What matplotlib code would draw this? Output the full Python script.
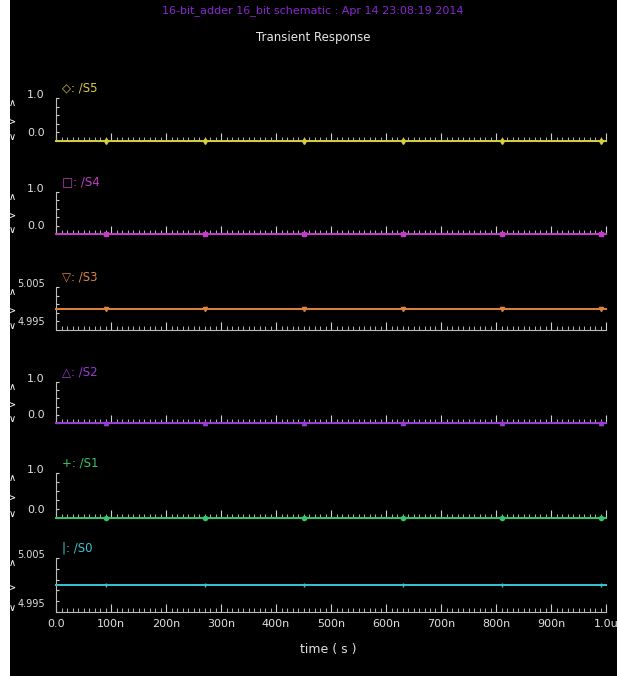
import matplotlib
matplotlib.use("Agg")
import matplotlib.pyplot as plt
from matplotlib.patches import Rectangle

plt.rcParams['font.family'] = ['DejaVu Sans']

# ---- data ----
time_us = [0.0, 1.0]
signal_names = ["/S5", "/S4", "/S3", "/S2", "/S1", "/S0"]
S5 = [0.0, 0.0]
S4 = [0.0, 0.0]
S3 = [5.0, 5.0]
S2 = [0.0, 0.0]
S1 = [0.0, 0.0]
S0 = [5.0, 5.0]
marker_times = [0.09, 0.27, 0.45, 0.63, 0.81, 0.99]
ytick_lo = ["0.0", "0.0", "4.995", "0.0", "0.0", "4.995"]
ytick_hi = ["1.0", "1.0", "5.005", "1.0", "1.0", "5.005"]
ylims = [(0.0, 1.0), (0.0, 1.0), (4.995, 5.005), (0.0, 1.0), (0.0, 1.0), (4.995, 5.005)]
xtick_vals = [0.0, 0.1, 0.2, 0.3, 0.4, 0.5, 0.6, 0.7, 0.8, 0.9, 1.0]
xtick_labels = ["0.0", "100n", "200n", "300n", "400n", "500n", "600n", "700n", "800n", "900n", "1.0u"]
series = [S5, S4, S3, S2, S1, S0]

# ---- style ----
colors = ["#d8cc3c", "#c43cc8", "#e0843c", "#9a3cd8", "#38c468", "#3cc4d4"]
markers = ["d", "s", "v", "^", "o", "|"]
marker_syms = ["\u25c7", "\u25a1", "\u25bd", "\u25b3", "+", "|"]
# panel pixel extents (top, bottom)
panels_px = [(98, 141), (192, 234), (287, 330), (382, 423), (473, 518), (558, 612)]

W, H = 617, 676
fig = plt.figure(figsize=(W / 100, H / 100), dpi=100, facecolor="white")
fig.patches.append(Rectangle((10 / W, 0), 1 - 10 / W, 1, transform=fig.transFigure,
                             facecolor="black", edgecolor="none", zorder=-10))

left_px, right_px = 56, 606
grey = "#d0d0d0"
txt = "#e0e0e0"
for i, (name, vals) in enumerate(zip(signal_names, series)):
    top, bot = panels_px[i]
    ax = fig.add_axes([left_px / W, 1 - bot / H, (right_px - left_px) / W, (bot - top) / H])
    ax.set_facecolor("none")
    ax.set_xlim(0, 1.0)
    ax.set_ylim(*ylims[i])
    for s in ["top", "right"]:
        ax.spines[s].set_visible(False)
    ax.spines["left"].set_color("#bbbbbb")
    ax.spines["left"].set_linewidth(0.8)
    ax.spines["bottom"].set_color("#bbbbbb")
    ax.spines["bottom"].set_linewidth(0.8)
    ax.set_xticks(xtick_vals)
    ax.set_xticks([k / 100 for k in range(101)], minor=True)
    ax.tick_params(axis="x", which="major", direction="in", length=6, width=0.8, color=grey)
    ax.tick_params(axis="x", which="minor", direction="in", length=3, width=0.6, color=grey)
    if i == len(series) - 1:
        ax.set_xticklabels(xtick_labels, color=txt, fontsize=8)
        ax.tick_params(axis="x", which="major", pad=5)
    else:
        ax.set_xticklabels([])
    lo, hi = ylims[i]
    ax.set_yticks([])
    ax.set_yticks([lo + (hi - lo) * k / 5 for k in range(6)], minor=True)
    ax.tick_params(axis="y", which="minor", direction="in", length=2, width=0.8, color=grey)

    ax.plot(time_us, vals, color=colors[i], lw=1.4, clip_on=False, zorder=5)
    ax.plot(marker_times, [vals[0]] * len(marker_times), linestyle="none",
            marker=markers[i], ms=3, color=colors[i], mfc=colors[i], clip_on=False, zorder=6)

    # y labels
    fs = 7 if len(ytick_hi[i]) > 3 else 8
    ax.annotate(ytick_hi[i], xy=(0, hi), xycoords=("axes fraction", "data"),
                xytext=(-8, 2), textcoords="offset points", ha="right", va="center",
                color=txt, fontsize=fs)
    ax.annotate(ytick_lo[i], xy=(0, lo), xycoords=("axes fraction", "data"),
                xytext=(-8, 6), textcoords="offset points", ha="right", va="center",
                color=txt, fontsize=fs)
    # carets
    fig.text(12 / W, 1 - (top + 5) / H, "\u2227", color="white", fontsize=7,
             ha="center", va="center", family="DejaVu Sans")
    fig.text(12 / W, 1 - ((top + bot) / 2 + 2) / H, ">", color="white", fontsize=7,
             ha="center", va="center", family="DejaVu Sans")
    fig.text(12 / W, 1 - (bot - 4) / H, "\u2228", color="white", fontsize=7,
             ha="center", va="center", family="DejaVu Sans")
    # signal label
    fig.text(62 / W, 1 - (top - 10) / H, marker_syms[i] + ": " + name, color=colors[i],
             fontsize=8.5, ha="left", va="center")

fig.text(328 / W, 1 - 650 / H, "time ( s )", color=txt, fontsize=9, ha="center", va="center")
fig.text(313 / W, 1 - 11 / H, "16-bit_adder 16_bit schematic : Apr 14 23:08:19 2014",
         color="#8a28d0", fontsize=8, ha="center", va="center")
fig.text(313 / W, 1 - 37 / H, "Transient Response", color="#e8e8e8", fontsize=8.5,
         ha="center", va="center")

fig.savefig("out.png", dpi=100, facecolor="white")
